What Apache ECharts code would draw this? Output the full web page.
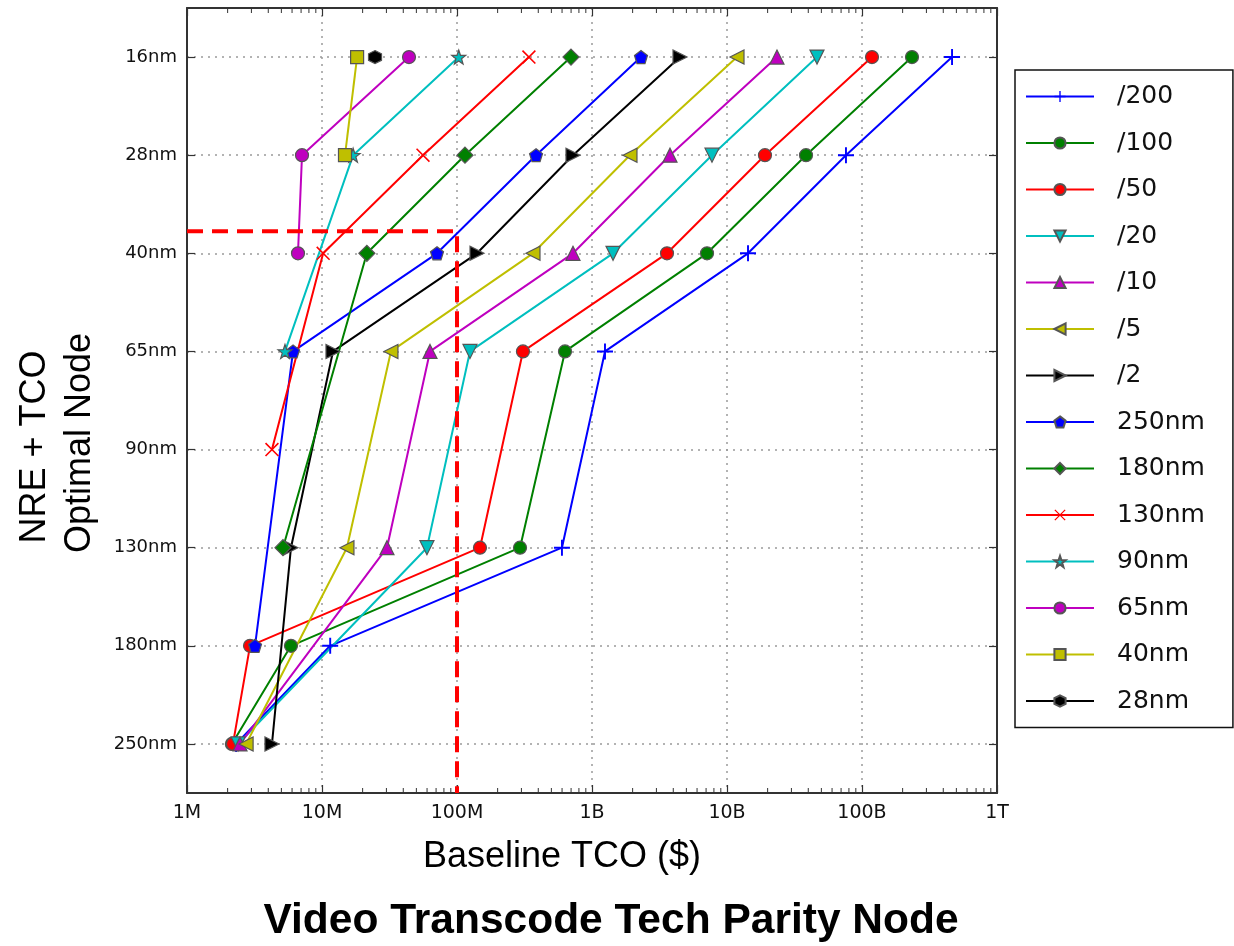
<!DOCTYPE html>
<html>
<head>
<meta charset="utf-8">
<title>Video Transcode Tech Parity Node</title>
<script src="https://cdn.jsdelivr.net/npm/echarts@6/dist/echarts.min.js"></script>
<style>
  html, body { margin: 0; padding: 0; background: #fff; }
  #chart { width: 1234px; height: 946px; }
</style>
</head>
<body>
<div id="chart"></div>
<script>
// Optimal process node (y) against baseline TCO in $M (x, log scale)
const nodes = ['16nm', '28nm', '40nm', '65nm', '90nm', '130nm', '180nm', '250nm'];
const tickLabels = ['1M', '10M', '100M', '1B', '10B', '100B', '1T'];

// each entry: [node, baseline TCO in $M]
const div200 = [['16nm', 464500], ['28nm', 76080], ['40nm', 14310], ['65nm', 1248], ['130nm', 599], ['180nm', 11.5], ['250nm', 2.31]];
const div100 = [['16nm', 234600], ['28nm', 38480], ['40nm', 7112], ['65nm', 631], ['130nm', 293], ['180nm', 5.89], ['250nm', 2.15]];
const div50  = [['16nm', 118600], ['28nm', 19110], ['40nm', 3594], ['65nm', 308], ['130nm', 148], ['180nm', 2.93], ['250nm', 2.19]];
const div20  = [['16nm', 46400], ['28nm', 7743], ['40nm', 1431], ['65nm', 124.8], ['130nm', 59.9], ['250nm', 2.39]];
const div10  = [['16nm', 23450], ['28nm', 3783], ['40nm', 723], ['65nm', 63.1], ['130nm', 30.3], ['250nm', 2.47]];
const div5   = [['16nm', 11860], ['28nm', 1911], ['40nm', 365.5], ['65nm', 32.4], ['130nm', 15.3], ['250nm', 2.74]];
const div2   = [['16nm', 4487], ['28nm', 723], ['40nm', 140.7], ['65nm', 12.06], ['130nm', 5.89], ['250nm', 4.26]];
const nm250  = [['16nm', 2306], ['28nm', 385], ['40nm', 71.1], ['65nm', 6.10], ['180nm', 3.19]];
const nm180  = [['16nm', 699], ['28nm', 114.6], ['40nm', 21.5], ['130nm', 5.14]];
const nm130  = [['16nm', 341], ['28nm', 56.0], ['40nm', 10.2], ['90nm', 4.26]];
const nm90   = [['16nm', 103], ['28nm', 17.0], ['65nm', 5.32]];
const nm65   = [['16nm', 44.1], ['28nm', 7.11], ['40nm', 6.64]];
const nm40   = [['16nm', 18.2], ['28nm', 14.8]];
const nm28   = [['16nm', 24.7]];

// parity reference: 100M baseline TCO, between 28nm and 40nm
const parityTco = 100;
const parityLevel = 1.775;

const FONT = 'Liberation Sans';
const WIDE = 'DejaVu Sans';
const EDGE = '#555';

const P = {
  plus: 'path://M0,4.4H10V5.6H0Z M4.4,0H5.6V10H4.4Z',
  cross: 'path://M0,0.8L0.8,0L10,9.2L9.2,10Z M9.2,0L10,0.8L0.8,10L0,9.2Z',
  pentagon: 'path://M5,0L9.76,3.45L7.94,9.05H2.06L0.24,3.45Z',
  star: 'path://M5,0L6.18,3.38L9.76,3.45L6.9,5.62L7.94,9.05L5,7L2.06,9.05L3.1,5.62L0.24,3.45L3.82,3.38Z',
  hexagon: 'path://M5,0L9.33,2.5V7.5L5,10L0.67,7.5V2.5Z'
};

const defs = [
  { name: '/200', data: div200, color: '#0000ff', symbol: P.plus, size: 16, edge: '#0000ff', edgeW: 0 },
  { name: '/100', data: div100, color: '#008000', symbol: 'circle', size: 13 },
  { name: '/50', data: div50, color: '#ff0000', symbol: 'circle', size: 13 },
  { name: '/20', data: div20, color: '#00bfbf', symbol: 'triangle', size: 14, rotate: 180 },
  { name: '/10', data: div10, color: '#bf00bf', symbol: 'triangle', size: 14 },
  { name: '/5', data: div5, color: '#bfbf00', symbol: 'triangle', size: 14, rotate: 90 },
  { name: '/2', data: div2, color: '#000000', symbol: 'triangle', size: 14, rotate: -90 },
  { name: '250nm', data: nm250, color: '#0000ff', symbol: P.pentagon, size: 13 },
  { name: '180nm', data: nm180, color: '#008000', symbol: 'diamond', size: 16 },
  { name: '130nm', data: nm130, color: '#ff0000', symbol: P.cross, size: 14, edge: '#ff0000', edgeW: 0 },
  { name: '90nm', data: nm90, color: '#00bfbf', symbol: P.star, size: 14 },
  { name: '65nm', data: nm65, color: '#bf00bf', symbol: 'circle', size: 13 },
  { name: '40nm', data: nm40, color: '#bfbf00', symbol: 'rect', size: 13 },
  { name: '28nm', data: nm28, color: '#000000', symbol: P.hexagon, size: 13 }
];

const lineSeries = defs.map(d => ({
  name: d.name,
  type: 'line',
  xAxisIndex: 0,
  yAxisIndex: 0,
  data: d.data.map(p => [p[1], p[0]]),
  symbol: d.symbol,
  symbolSize: d.size,
  symbolRotate: d.rotate || 0,
  showAllSymbol: true,
  lineStyle: { color: d.color, width: 2 },
  itemStyle: { color: d.color, borderColor: d.edge || EDGE, borderWidth: d.edgeW === undefined ? 1.2 : d.edgeW },
  emphasis: { disabled: true },
  z: 3
}));

// minor ticks of the log axis, 2..9 within every decade
const minorTicks = [];
for (let e = 0; e < 6; e++) {
  for (let m = 2; m <= 9; m++) minorTicks.push([m * Math.pow(10, e), 0]);
}

const minorTickSeries = {
  type: 'custom',
  xAxisIndex: 0,
  yAxisIndex: 1,
  silent: true,
  data: minorTicks,
  z: 6,
  renderItem: function (params, api) {
    const x = api.coord([api.value(0), 0])[0];
    const cs = params.coordSys;
    const st = { stroke: '#333', lineWidth: 1 };
    return {
      type: 'group',
      children: [
        { type: 'line', shape: { x1: x, y1: cs.y + cs.height, x2: x, y2: cs.y + cs.height - 5 }, style: st },
        { type: 'line', shape: { x1: x, y1: cs.y, x2: x, y2: cs.y + 5 }, style: st }
      ]
    };
  }
};

const paritySeries = {
  type: 'line',
  xAxisIndex: 0,
  yAxisIndex: 1,
  data: [[1, parityLevel], [parityTco, parityLevel], [parityTco, 7.5]],
  showSymbol: false,
  symbol: 'none',
  silent: true,
  lineStyle: { color: '#ff0000', width: 4, type: [16, 9] },
  z: 8
};

const frameLine = { show: true, onZero: false, lineStyle: { color: '#333', width: 2 } };
const frameTick = { show: true, inside: true, length: 8, lineStyle: { color: '#333', width: 1.2 } };
const dotted = { show: true, lineStyle: { color: '#9a9a9a', width: 1.5, type: [2, 5] } };

const option = {
  animation: false,
  backgroundColor: '#ffffff',
  grid: { left: 187, top: 8, width: 810, height: 785, containLabel: false },
  xAxis: [
    {
      type: 'log', logBase: 10, min: 1, max: 1e6, position: 'bottom',
      axisLine: frameLine, axisTick: frameTick,
      axisLabel: {
        formatter: v => tickLabels[Math.round(Math.log10(v))] || '',
        fontFamily: WIDE, fontSize: 19, color: '#111', margin: 11
      },
      splitLine: dotted
    },
    {
      type: 'log', logBase: 10, min: 1, max: 1e6, position: 'top',
      axisLine: frameLine, axisTick: frameTick,
      axisLabel: { show: false }, splitLine: { show: false }
    }
  ],
  yAxis: [
    {
      type: 'category', data: nodes, inverse: true, position: 'left',
      axisLine: frameLine,
      axisTick: Object.assign({}, frameTick, { alignWithLabel: true }),
      axisLabel: { fontFamily: WIDE, fontSize: 18, color: '#111', margin: 10 },
      splitLine: Object.assign({ alignWithLabel: true }, dotted)
    },
    {
      type: 'value', min: -0.5, max: 7.5, inverse: true, position: 'left', show: false,
      axisLine: { show: false }, axisTick: { show: false }, axisLabel: { show: false },
      splitLine: { show: false }
    },
    {
      type: 'category', data: nodes, inverse: true, position: 'right',
      axisLine: frameLine,
      axisTick: Object.assign({}, frameTick, { alignWithLabel: true }),
      axisLabel: { show: false }, splitLine: { show: false }
    }
  ],
  legend: {
    data: defs.map(d => d.name),
    orient: 'vertical',
    left: 1015, top: 70,
    padding: [14, 28, 14, 10],
    itemWidth: 68, itemHeight: 14, itemGap: 21.5,
    backgroundColor: '#fff', borderColor: '#111', borderWidth: 1.5, borderRadius: 0,
    textStyle: { fontFamily: WIDE, fontSize: 25, color: '#111', padding: [0, 0, 0, 18], lineHeight: 25 }
  },
  graphic: [
    { type: 'text', x: 562, y: 857, style: { text: 'Baseline TCO ($)', fontFamily: FONT, fontSize: 36, fill: '#000', align: 'center', verticalAlign: 'middle' } },
    { type: 'text', x: 35, y: 447, rotation: Math.PI / 2, style: { text: 'NRE + TCO', fontFamily: FONT, fontSize: 36, fill: '#000', align: 'center', verticalAlign: 'middle' } },
    { type: 'text', x: 80, y: 443, rotation: Math.PI / 2, style: { text: 'Optimal Node', fontFamily: FONT, fontSize: 36, fill: '#000', align: 'center', verticalAlign: 'middle' } },
    { type: 'text', x: 611, y: 921, style: { text: 'Video Transcode Tech Parity Node', fontFamily: FONT, fontWeight: 'bold', fontSize: 42.5, fill: '#000', align: 'center', verticalAlign: 'middle' } }
  ],
  series: lineSeries.concat([paritySeries, minorTickSeries])
};

const chart = echarts.init(document.getElementById('chart'), null, { renderer: 'canvas' });
chart.setOption(option);
</script>
</body>
</html>
